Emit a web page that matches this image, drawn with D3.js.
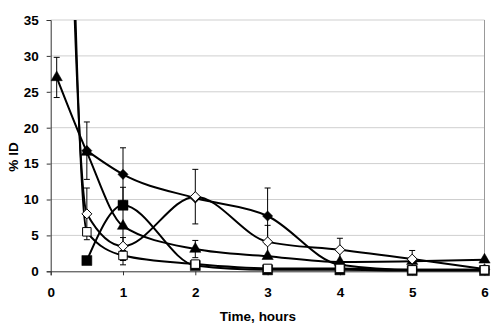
<!DOCTYPE html>
<html>
<head>
<meta charset="utf-8">
<script src="https://cdn.jsdelivr.net/npm/d3@7"></script>
<style>
  body { margin: 0; background: #fff; }
  svg text { font-family: "Liberation Sans", Arial, sans-serif; font-weight: bold; fill: #000; }
</style>
</head>
<body>
<div class="display"></div>
<script>
// sample times (hours); 0.083 = 5 min
const times = [0.083, 0.5, 1, 2, 3, 4, 5, 6];

const filledDiamond = [null, 16.8, 13.5, 10.2, 7.7, 0.9, 0.2, 0.2];
const filledDiamondErr = [null, 4.0, 3.7, 0, 3.9, 0, 0, 0];

const openDiamond = [130, 8.0, 3.5, 10.4, 4.1, 3.0, 1.7, 0.3];
const openDiamondErr = [0, 3.6, 1.2, 3.8, 2.3, 1.6, 1.2, 0];

const triangle = [27.0, 16.6, 6.3, 3.1, 2.1, 1.3, 1.4, 1.6];
const triangleErr = [2.8, 0, 5.4, 1.2, 0, 0, 0, 0];

const filledSquare = [null, 1.5, 9.2, 0.8, 0.2, 0.2, 0.1, 0.1];
const filledSquareErr = [0, 0, 0, 0, 0, 0, 0, 0];

const openSquare = [160, 5.5, 2.2, 1.0, 0.4, 0.4, 0.2, 0.2];
const openSquareErr = [0, 0, 0.7, 0, 0, 0, 0, 0];

const xTicks = [0, 1, 2, 3, 4, 5, 6];
const yTicks = [0, 5, 10, 15, 20, 25, 30, 35];

// square turned 45 degrees, like the spreadsheet diamond marker
const symbolRhomb = {
  draw(ctx, size) {
    const r = Math.sqrt(size / 2);
    ctx.moveTo(0, -r);
    ctx.lineTo(r, 0);
    ctx.lineTo(0, r);
    ctx.lineTo(-r, 0);
    ctx.closePath();
  }
};

const series = [
  { values: triangle, err: triangleErr, shape: d3.symbolTriangle, fill: '#000', size: 55 },
  { values: filledDiamond, err: filledDiamondErr, shape: symbolRhomb, fill: '#000', size: 52 },
  { values: openDiamond, err: openDiamondErr, shape: symbolRhomb, fill: '#fff', size: 50 },
  { values: filledSquare, err: filledSquareErr, shape: d3.symbolSquare, fill: '#000', size: 100 },
  { values: openSquare, err: openSquareErr, shape: d3.symbolSquare, fill: '#fff', size: 72 }
];

const width = 500;
const height = 332;
const plotLeft = 50.7, plotRight = 484.5, plotTop = 20, plotBottom = 271.3;

const svg = d3.select('.display')
  .append('svg')
  .attr('width', width)
  .attr('height', height);

const xScale = d3.scaleLinear().domain([0, 6]).range([plotLeft, plotRight]);
const yScale = d3.scaleLinear().domain([0, 35]).range([plotBottom, plotTop]);

// gridlines
svg.append('g')
  .selectAll('line')
  .data(yTicks.filter(d => d > 0))
  .enter()
  .append('line')
  .attr('x1', plotLeft).attr('x2', plotRight)
  .attr('y1', d => yScale(d)).attr('y2', d => yScale(d))
  .attr('stroke', '#cfcfcf')
  .attr('stroke-width', 1);

// right border
svg.append('line')
  .attr('x1', plotRight).attr('x2', plotRight)
  .attr('y1', plotTop).attr('y2', plotBottom)
  .attr('stroke', '#999');

const yAxis = d3.axisLeft(yScale).tickValues(yTicks).tickFormat(d3.format('d')).tickSize(4).tickPadding(8);
const gy = svg.append('g')
  .attr('transform', `translate(${plotLeft}, 0)`)
  .call(yAxis);
gy.select('.domain').attr('stroke', '#333');
gy.selectAll('.tick line').attr('stroke', '#333');
gy.selectAll('text').style('font-size', '13.5px');

const xAxis = d3.axisBottom(xScale).tickValues(xTicks).tickFormat(d3.format('d')).tickSize(4).tickPadding(12);
const gx = svg.append('g')
  .attr('transform', `translate(0, ${plotBottom})`)
  .call(xAxis);
gx.select('.domain').attr('stroke', '#333');
gx.selectAll('.tick line').attr('stroke', '#333');
gx.selectAll('text').style('font-size', '13.5px');

svg.append('text')
  .attr('x', 258)
  .attr('y', 321)
  .attr('text-anchor', 'middle')
  .style('font-size', '13.5px')
  .text('Time, hours');

svg.append('text')
  .attr('transform', 'translate(18, 157) rotate(-90)')
  .attr('text-anchor', 'middle')
  .style('font-size', '13.5px')
  .text('% ID');

svg.append('clipPath')
  .attr('id', 'plot-clip')
  .append('rect')
  .attr('x', plotLeft).attr('y', plotTop)
  .attr('width', plotRight - plotLeft).attr('height', plotBottom - plotTop + 3);

const line = d3.line()
  .x(d => xScale(d.t))
  .y(d => yScale(d.v))
  .curve(d3.curveMonotoneX);

// lines
series.forEach(s => {
  const pts = times.map((t, i) => ({ t, v: s.values[i] })).filter(d => d.v !== null);
  svg.append('path')
    .attr('clip-path', 'url(#plot-clip)')
    .attr('d', line(pts))
    .attr('fill', 'none')
    .attr('stroke', '#000')
    .attr('stroke-width', 2);
});

// error bars
series.forEach(s => {
  const pts = times.map((t, i) => ({ t, v: s.values[i], e: s.err[i] }))
    .filter(d => d.v !== null && d.e > 0 && d.v <= 35);
  const g = svg.append('g').attr('stroke', '#000').attr('stroke-width', 1);
  pts.forEach(d => {
    const x = xScale(d.t);
    g.append('line').attr('x1', x).attr('x2', x)
      .attr('y1', yScale(d.v + d.e)).attr('y2', yScale(Math.max(0, d.v - d.e)));
    [d.v + d.e, d.v - d.e].forEach(c => {
      if (c < 0) return;
      g.append('line').attr('x1', x - 3).attr('x2', x + 3)
        .attr('y1', yScale(c)).attr('y2', yScale(c));
    });
  });
});

// markers
series.forEach(s => {
  const pts = times.map((t, i) => ({ t, v: s.values[i] })).filter(d => d.v !== null && d.v <= 35);
  svg.append('g')
    .selectAll('path')
    .data(pts)
    .enter()
    .append('path')
    .attr('transform', d => `translate(${xScale(d.t)}, ${yScale(d.v)})`)
    .attr('d', d3.symbol().type(s.shape).size(s.size))
    .attr('fill', s.fill)
    .attr('stroke', '#000')
    .attr('stroke-width', s.fill === '#fff' ? 1 : 0.5);
});
</script>
</body>
</html>
